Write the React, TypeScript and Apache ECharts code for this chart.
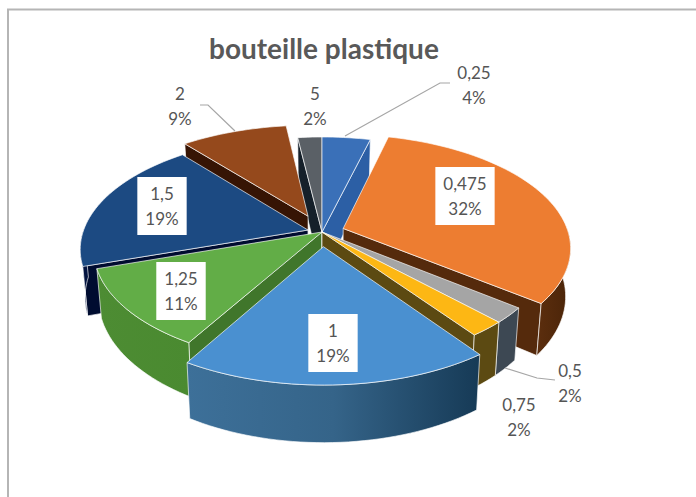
import React, { useEffect, useRef } from "react";
import * as echarts from "echarts";

const categories = ["0,25", "0,475", "0,5", "0,75", "1", "1,25", "1,5", "2", "5"];
const shares = [4, 31.6, 2.2, 2.2, 18.5, 11.4, 19.1, 9, 2];
const titleText = "bouteille plastique";

const topColors = ["#3a70b8", "#ed7d31", "#a5a5a5", "#fdb714", "#4a90d0", "#62ad47", "#1c4a82", "#95491c", "#5a6066"];
const cutColors = ["#2c5fa5", "#552a0c", "#3d4853", "#5c4a12", "#1d4060", "#40762b", "#000c30", "#361404", "#15202a"];
const wallColors: any[] = [
  "#2c5fa5",
  ["#5c2e0e", "#4a2408"],
  "#3d4853",
  "#5c4a12",
  ["#3d7099", "#356489", "#163a56"],
  ["#4d8c33", "#4a8a30"],
  "#031440",
  "#5c2c0e",
  "#2a3036",
];
const explode = [0, 0.1, 0, 0, 0.13, 0, 0.065, 0.16, 0];
const labelBoxes = [false, true, false, false, true, true, true, false, false];
const labelAnchors = [[474, 85], [465, 196], [570, 383], [519, 417], [333, 343], [181, 291], [162, 206], [180, 106], [315, 106]];
const leaders = [
  [[345, 136], [440, 83], [450, 83]],
  [[235, 131], [208, 105], [200, 105]],
  [[505, 368], [537, 378], [555, 380]],
];

const CX = 322, CY = 232, RX = 225, RY = 110.5, PERSP = 0.163, DEPTH = 47, SHRINK = 0.98;

function project(theta: number, r: number, ex: number, ey: number, low: boolean) {
  const gx = Math.sin(theta) * r + ex;
  const gy = -Math.cos(theta) * r + ey;
  const s = 1 / (1 - PERSP * gy);
  let x = CX + gx * RX * s;
  let y = CY + gy * RY * s;
  if (low) {
    x = CX + (x - CX) * SHRINK;
    y += DEPTH * s;
  }
  return [x, y];
}

const total = shares.reduce((a, b) => a + b, 0);
const slices = shares.map((v, i) => {
  const before = shares.slice(0, i).reduce((a, b) => a + b, 0);
  const a0 = (before / total) * Math.PI * 2;
  const a1 = ((before + v) / total) * Math.PI * 2;
  const mid = (a0 + a1) / 2;
  return { i, a0, a1, mid, ex: Math.sin(mid) * explode[i], ey: -Math.cos(mid) * explode[i] };
});
const drawOrder = slices
  .slice()
  .sort((a, b) => -Math.cos(a.mid) - (-Math.cos(b.mid)))
  .map((s) => s.i);

function arc(a0: number, a1: number, ex: number, ey: number, low: boolean) {
  const n = Math.max(2, Math.ceil((a1 - a0) / 0.03));
  const pts = [];
  for (let k = 0; k <= n; k++) pts.push(project(a0 + ((a1 - a0) * k) / n, 1, ex, ey, low));
  return pts;
}

function fillOf(c: any) {
  if (Array.isArray(c)) {
    return {
      type: "linear", x: 0, y: 0, x2: 1, y2: 0,
      colorStops: c.map((color: string, k: number) => ({ offset: k / (c.length - 1), color })),
    };
  }
  return c;
}

const EDGE = "rgba(255,255,255,0.65)";

function renderSlice(_params: any, api: any) {
  const s = slices[api.value(0)];
  const children: any[] = [];
  const poly = (points: number[][], fill: any) =>
    children.push({ type: "polygon", shape: { points }, style: { fill, stroke: EDGE, lineWidth: 1, lineJoin: "round" } });
  const apexT = project(0, 0, s.ex, s.ey, false);
  const apexB = project(0, 0, s.ex, s.ey, true);
  if (Math.sin(s.a0) < 0) {
    poly([apexT, project(s.a0, 1, s.ex, s.ey, false), project(s.a0, 1, s.ex, s.ey, true), apexB], cutColors[s.i]);
  }
  if (Math.sin(s.a1) > 0) {
    poly([apexT, project(s.a1, 1, s.ex, s.ey, false), project(s.a1, 1, s.ex, s.ey, true), apexB], cutColors[s.i]);
  }
  const w0 = Math.max(s.a0, Math.PI / 2);
  const w1 = Math.min(s.a1, (Math.PI * 3) / 2);
  if (w1 > w0) {
    poly([...arc(w0, w1, s.ex, s.ey, false), ...arc(w0, w1, s.ex, s.ey, true).reverse()], fillOf(wallColors[s.i]));
  }
  poly([apexT, ...arc(s.a0, s.a1, s.ex, s.ey, false)], topColors[s.i]);
  return { type: "group", children };
}

const labelElements = categories.map((c, i) => ({
  type: "text",
  x: labelAnchors[i][0],
  y: labelAnchors[i][1],
  z: 20,
  style: {
    text: `${c}\n${Math.round(shares[i])}%`,
    x: 0,
    y: 0,
    align: "center",
    verticalAlign: "middle",
    font: "17px Lato, 'Open Sans', sans-serif",
    lineHeight: 25,
    fill: "#555555",
    backgroundColor: labelBoxes[i] ? "#ffffff" : "transparent",
    padding: labelBoxes[i] ? [4, 8, 4, 8] : 0,
  },
}));

const leaderElements = leaders.map((points) => ({
  type: "polyline",
  z: 15,
  shape: { points },
  style: { fill: "none", stroke: "#a6a6a6", lineWidth: 1.2 },
}));

export default function App() {
  const ref = useRef<HTMLDivElement>(null);
  useEffect(() => {
    const chart = echarts.init(ref.current!, undefined, { renderer: "svg" });
    chart.setOption({
      animation: false,
      backgroundColor: "#ffffff",
      title: {
        text: titleText,
        left: 204,
        top: 29,
        textStyle: { fontFamily: "Lato, 'Open Sans', sans-serif", fontWeight: "bold", fontSize: 28, color: "#595959" },
      },
      series: [
        {
          type: "custom",
          coordinateSystem: "none",
          renderItem: renderSlice,
          data: drawOrder.map((i) => [i, shares[i]]),
          silent: true,
        },
      ],
      graphic: [
        {
          type: "polyline",
          z: 1,
          shape: { points: [[8, 497], [8, 9.5], [696, 9.5]] },
          style: { fill: "none", stroke: "#b5b5b5", lineWidth: 2 },
        },
        ...leaderElements,
        ...labelElements,
      ],
    });
    return () => chart.dispose();
  }, []);
  return <div ref={ref} style={{ position: "fixed", left: 0, top: 0, width: 696, height: 497 }} />;
}
